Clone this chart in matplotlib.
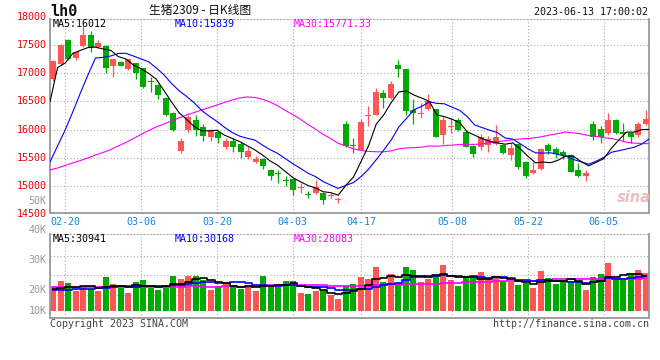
import numpy as np
import pandas as pd
import matplotlib
matplotlib.use("Agg")
import matplotlib.pyplot as plt
from matplotlib.transforms import blended_transform_factory as blend

# ---------------- data ----------------
holidays = ["2023-04-05", "2023-05-01", "2023-05-02", "2023-05-03"]
dates = [d for d in pd.bdate_range("2023-02-16", "2023-06-13") if d.strftime("%Y-%m-%d") not in holidays]
date_labels = ["02-20", "03-06", "03-20", "04-03", "04-17", "05-08", "05-22", "06-05"]

opens = [16890, 17165, 17590, 17265, 17480, 17680, 17460, 17480, 17130, 17200,
         17075, 17175, 17085, 16850, 16790, 16555, 16300, 15620, 15990, 16170,
         16050, 15860, 15950, 15700, 15800, 15750, 15520, 15420, 15480, 15284,
         15220, 15110, 15120, 14970, 14850, 14870, 14880, 14830, 14745, 16100,
         15720, 15640, 16240, 16260, 16655, 16565, 17145, 17075, 16350, 16285,
         16360, 16360, 15905, 16055, 16170, 15965, 15710, 15700, 15730, 15745,
         15730, 15550, 15740, 15420, 15236, 15300, 15720, 15650, 15600, 15550,
         15285, 15180, 16100, 16010, 15945, 16170, 15950, 15945, 15905, 16100]
highs = [17240, 17520, 17600, 17380, 17840, 17740, 17590, 17500, 17260, 17215,
         17260, 17185, 17100, 16940, 16800, 16570, 16310, 15850, 16260, 16250,
         16100, 16010, 15990, 15850, 15850, 15780, 15700, 15540, 15500, 15300,
         15290, 15180, 15140, 15060, 14910, 15100, 14890, 14880, 14800, 16150,
         15850, 16190, 16420, 16730, 16700, 16870, 17235, 17080, 16540, 16470,
         16630, 16370, 16260, 16200, 16200, 15975, 15720, 15930, 15890, 16080,
         15740, 15760, 15750, 15440, 15420, 15680, 15760, 15700, 15640, 15560,
         15400, 15280, 16160, 16065, 16300, 16190, 16110, 15965, 16140, 16350]
lows = [16870, 17150, 17230, 17230, 17470, 17370, 17440, 17010, 16940, 17120,
        17060, 16890, 16740, 16670, 16540, 16240, 15970, 15580, 15950, 15880,
        15800, 15800, 15760, 15650, 15600, 15500, 15480, 15400, 15300, 15100,
        15060, 15000, 14840, 14880, 14780, 14860, 14680, 14790, 14700, 15700,
        15580, 15630, 16065, 16250, 16380, 16550, 16925, 16260, 16100, 16200,
        16350, 15860, 15745, 15945, 15980, 15690, 15520, 15640, 15610, 15730,
        15570, 15460, 15300, 15140, 15220, 15280, 15560, 15500, 15480, 15240,
        15160, 15085, 15820, 15770, 15905, 15925, 15790, 15760, 15870, 16090]
closes = [17220, 17500, 17250, 17370, 17680, 17470, 17540, 17090, 17250, 17130,
          17250, 17010, 16760, 16840, 16615, 16260, 15995, 15800, 16230, 15990,
          15880, 15990, 15850, 15800, 15700, 15600, 15620, 15480, 15350, 15180,
          15210, 15080, 14930, 14985, 14840, 14990, 14750, 14845, 14760, 15715,
          15710, 16140, 16250, 16660, 16555, 16810, 17070, 16330, 16290, 16295,
          16515, 15875, 16170, 16065, 15995, 15700, 15565, 15865, 15830, 15865,
          15580, 15680, 15330, 15180, 15284, 15650, 15620, 15560, 15550, 15255,
          15185, 15235, 15875, 15875, 16170, 15935, 15920, 15875, 16100, 16190]
volumes = [24400, 27100, 26000, 22000, 24000, 23200, 22000, 29100, 25400, 23500,
           21000, 26400, 27600, 23500, 22500, 24000, 29600, 28100, 29600, 29600,
           27400, 22500, 24400, 25400, 24000, 23200, 24900, 22000, 29600, 24000,
           24000, 27100, 27100, 21000, 20300, 22000, 22300, 19800, 17800, 24400,
           25400, 29100, 27900, 34000, 26400, 30500, 25900, 34000, 32500, 26400,
           27900, 29900, 35500, 27400, 24400, 29400, 28400, 31500, 27900, 28900,
           26900, 26400, 24900, 25900, 23400, 32000, 28400, 25400, 26900, 26900,
           26900, 22300, 29400, 30500, 36500, 27400, 27400, 30500, 32500, 31000]

# moving-average values before the window is full
ma5_head = [16495, 17100, 17180, 17350]
ma10_head = [15425, 15710, 15993, 16312, 16649, 16968, 17270, 17280, 17305]
ma30_head = [15284, 15319, 15364, 15408, 15452, 15497, 15550, 15594, 15647, 15709,
             15771, 15842, 15913, 15984, 16046, 16099, 16153, 16206, 16259, 16303,
             16348, 16392, 16436, 16481, 16525, 16560, 16580, 16570, 16540]
vma5_head = [23000, 23600, 24200, 24200]
vma10_head = [22300, 22400, 22600, 22800, 23000, 23200, 23400, 23600, 23900]
vma30_head = [24200, 24200, 24100, 24200, 24200, 24300, 24200, 24200, 24300, 24300,
              24200, 24200, 24300, 24300, 24200, 24200, 24300, 24300, 24400, 24400,
              24300, 24300, 24300, 24400, 24400, 24300, 24300, 24400, 24400]

legend_price = ["MA5:16012", "MA10:15839", "MA30:15771.33"]
legend_vol = ["MA5:30941", "MA10:30168", "MA30:28083"]
price_labels = [18000, 17500, 17000, 16500, 16000, 15500, 15000, 14500]
price_grid = [15000, 15500, 16000, 16500, 17000, 17500]
vol_labels = ["50K", "40K", "30K", "20K", "10K"]
vol_grid = [20000, 30000, 40000]

# ---------------- derived ----------------
n = len(closes)
xs = np.arange(n)
cs = pd.Series(closes, dtype=float)
vs = pd.Series(volumes, dtype=float)

def ma(series, w, head):
    r = series.rolling(w).mean().to_numpy()
    return np.concatenate([np.array(head, dtype=float), r[w - 1:]])

ma5, ma10, ma30 = ma(cs, 5, ma5_head), ma(cs, 10, ma10_head), ma(cs, 30, ma30_head)
vma5, vma10, vma30 = ma(vs, 5, vma5_head), ma(vs, 10, vma10_head), ma(vs, 30, vma30_head)

# ---------------- layout ----------------
W, H = 660, 360
fig = plt.figure(figsize=(6.6, 3.6), dpi=100)
fig.patch.set_facecolor("white")
L, R = 50, 649.3
ax1 = fig.add_axes([L / W, 1 - 213 / H, (R - L) / W, (213 - 19) / H])
ax2 = fig.add_axes([L / W, 1 - 318 / H, (R - L) / W, (318 - 234.3) / H])

XL, XR = -0.444, 79.46
xl = XL + xs * (XR - XL) / (n - 1)  # line / grid positions
RED, GREEN = "#ff5555", "#00aa00"
GRID = "#aaaaaa"
MONO = "DejaVu Sans Mono"
FS = 7.2

tick_idx = [i for i, d in enumerate(dates) if d.strftime("%m-%d") in date_labels]

for ax in (ax1, ax2):
    ax.set_xlim(XL, XR)
    ax.set_xticks([])
    ax.set_yticks([])
    for s in ("left", "bottom", "right"):
        ax.spines[s].set_color("#999999")
        ax.spines[s].set_linewidth(1.3)
    ax.spines["top"].set_color("#aaaaaa")
    ax.spines["top"].set_linestyle((0, (1, 2)))
    ax.spines["top"].set_linewidth(0.8)
    for i in tick_idx:
        ax.axvline(xl[i], color=GRID, lw=0.8, ls=(0, (1, 2)), zorder=0)

# price panel
ax1.set_ylim(14521, 17961)
for v in price_grid:
    ax1.axhline(v, color=GRID, lw=0.8, ls=(0, (1, 2)), zorder=0)
px = 17.73
for i in range(n):
    o, h, l, c = opens[i], highs[i], lows[i], closes[i]
    col = RED if c >= o else GREEN
    ax1.vlines(i, l, h, color=col, lw=0.9, zorder=2)
    bot = min(o, c)
    hgt = max(abs(c - o), px)
    ax1.bar(i, hgt, bottom=bot - (px - abs(c - o)) / 2 if abs(c - o) < px else bot,
            width=0.8, color=col, lw=0, zorder=3)
ax1.plot(xl, ma30, color="#ff00ff", lw=0.8, zorder=4)
ax1.plot(xl, ma10, color="#0000ff", lw=0.8, zorder=4)
ax1.plot(xl, ma5, color="#000000", lw=0.8, zorder=4)

tr1 = blend(ax1.transAxes, ax1.transData)
for v in price_labels:
    ax1.text(-0.0055, v, str(v), transform=tr1, ha="right", va="center",
             color="#ee0000", fontsize=FS, family=MONO, clip_on=False)
trx = blend(ax1.transData, ax1.transAxes)
for i, lab in zip(tick_idx, date_labels):
    ax1.text(xl[i], -0.044, lab, transform=trx, ha="center", va="center",
             color="#1188dd", fontsize=FS, family=MONO, clip_on=False)

# legends
lx = [53, 174.3, 294]
lc = ["#000000", "#0000ff", "#ff00ff"]
for t, x, c in zip(legend_price, lx, lc):
    fig.text(x / W, 1 - 23.7 / H, t, color=c, fontsize=FS, family=MONO, ha="left", va="center")
for t, x, c in zip(legend_vol, lx, lc):
    fig.text(x / W, 1 - 238.5 / H, t, color=c, fontsize=FS, family=MONO, ha="left", va="center")

# volume panel
vscale = 1.965 / 1000.0
ax2.set_ylim((334.3 - 318) / vscale, (334.3 - 234.3) / vscale)
vbase = (334.3 - 311) / vscale
for v in vol_grid:
    ax2.axhline(v, color=GRID, lw=0.8, ls=(0, (1, 2)), zorder=0)
vcols = [RED if closes[i] >= opens[i] else GREEN for i in range(n)]
ax2.bar(xs, np.array(volumes) - vbase, bottom=vbase, width=0.8, color=vcols, lw=0, zorder=2)
ax2.plot(xs, vma30, color="#ff00ff", lw=1.2, drawstyle="steps-mid", zorder=3)
ax2.plot(xs, vma10, color="#0000ff", lw=1.2, drawstyle="steps-mid", zorder=3)
ax2.plot(xs, vma5, color="#000000", lw=1.2, drawstyle="steps-mid", zorder=3)

for t, y in zip(vol_labels, [200.7, 230.3, 260.3, 290.3, 311.3]):
    fig.text(46.7 / W, 1 - y / H, t, color="#999999", fontsize=FS, family=MONO,
             ha="right", va="center")

# header / footer
fig.text(50 / W, 1 - 11 / H, "lh0", fontsize=11, family=MONO, weight="bold",
         ha="left", va="center", color="#111111")
fig.text(200 / W, 1 - 10.5 / H, "生猪2309 - 日K线图", fontsize=8.5,
         family=["Noto Sans CJK SC", "DejaVu Sans"], ha="center", va="center", color="#111111")
fig.text(648.5 / W, 1 - 12 / H, "2023-06-13 17:00:02", fontsize=FS, family=MONO,
         ha="right", va="center", color="#111111")
fig.text(50 / W, 1 - 324 / H, "Copyright 2023 SINA.COM", fontsize=FS, family=MONO,
         ha="left", va="center", color="#444444")
fig.text(649 / W, 1 - 324 / H, "http://finance.sina.com.cn", fontsize=FS, family=MONO,
         ha="right", va="center", color="#444444")
fig.text(634 / W, 1 - 197 / H, "sina", fontsize=10.5, style="italic", weight="bold",
         ha="center", va="center", color="#e9b8b8", alpha=0.9)

fig.savefig("out.png", dpi=100)
